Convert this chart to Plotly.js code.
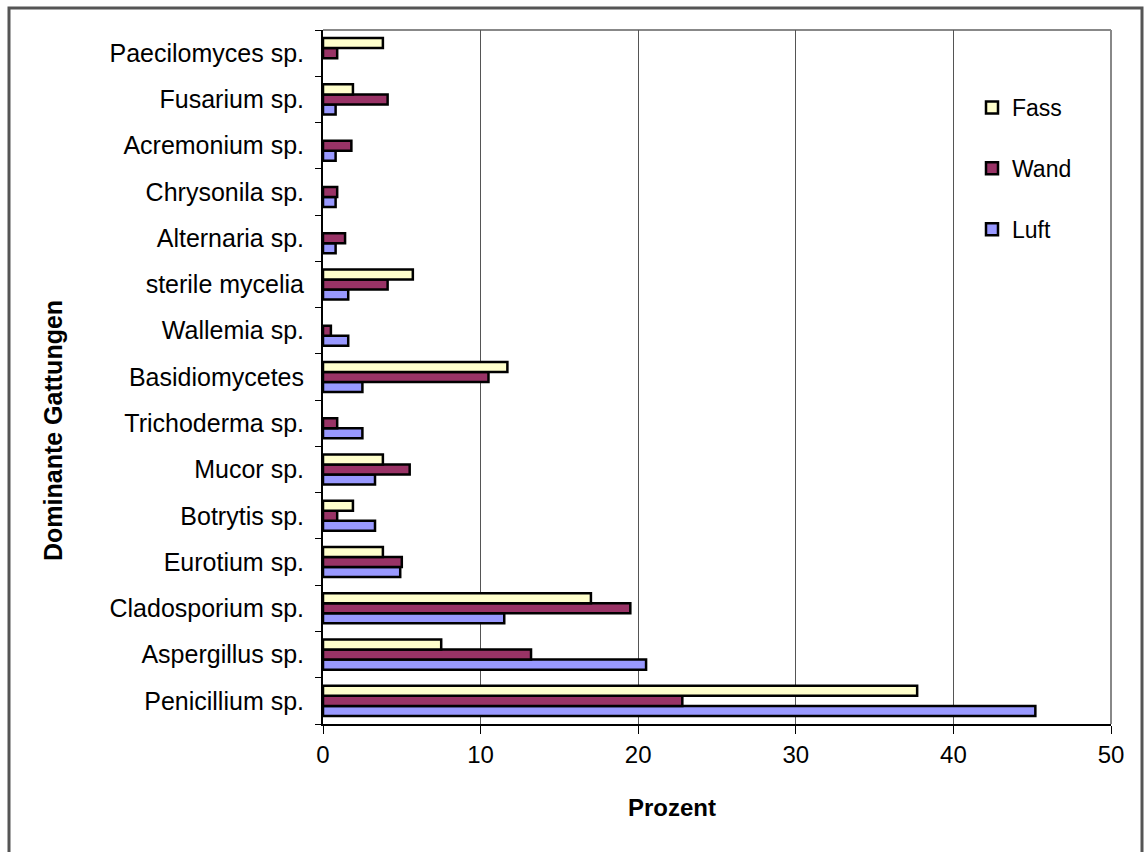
<!DOCTYPE html>
<html><head><meta charset="utf-8">
<script src="https://cdn.plot.ly/plotly-3.0.1.min.js"></script>
<style>html,body{margin:0;padding:0;background:#fff}#chart{width:1145px;height:852px}</style>
</head><body><div id="chart"></div>
<script>
// categories listed bottom-to-top
const categories = ["Penicillium sp.","Aspergillus sp.","Cladosporium sp.","Eurotium sp.","Botrytis sp.","Mucor sp.","Trichoderma sp.","Basidiomycetes","Wallemia sp.","sterile mycelia","Alternaria sp.","Chrysonila sp.","Acremonium sp.","Fusarium sp.","Paecilomyces sp."];
const luft = [45.2,20.5,11.5,4.9,3.3,3.3,2.5,2.5,1.6,1.6,0.8,0.8,0.8,0.8,0];
const wand = [22.8,13.2,19.5,5.0,0.9,5.5,0.9,10.5,0.5,4.1,1.4,0.9,1.8,4.1,0.9];
const fass = [37.7,7.5,17.0,3.8,1.9,3.8,0,11.7,0,5.7,0,0,0,1.9,3.8];
const seriesNames = ["Luft","Wand","Fass"];
const xTicks = [0,10,20,30,40,50];
const xTitle = "Prozent";
const yTitle = "Dominante Gattungen";

const W = 1145, H = 852;
const M = {l:323, r:34, t:30, b:128};
const PW = W - M.l - M.r, PH = H - M.t - M.b;
const px2x = p => (p - M.l) / PW;
const py2y = p => (H - M.b - p) / PH;

const colors = ["#9999FF","#993366","#FFFFCC"];
const values = [luft, wand, fass];
const FONT = "Liberation Sans, Arial, sans-serif";

const traces = seriesNames.map((n,i)=>({
  type:'bar', orientation:'h', name:n,
  x:values[i].map(v => v === 0 ? null : v), y:categories,
  legendgroup:n, legendrank: 3 - i,
  marker:{color:colors[i], line:{color:'#000', width:2.5}},
  hoverinfo:'x+y+name'
}));

const layout = {
  width:W, height:H, margin:M, paper_bgcolor:'#fff', plot_bgcolor:'#fff',
  barmode:'group', bargap:0.35, bargroupgap:0,
  showlegend:true,
  legend:{x:px2x(972), xanchor:'left', y:py2y(86), yanchor:'top',
    traceorder:'grouped', tracegroupgap:28,
    font:{family:FONT, size:23, color:'#000'}, bgcolor:'rgba(0,0,0,0)', borderwidth:0},
  xaxis:{range:[0,50], tickvals:xTicks, ticktext:xTicks.map(String), ticks:'outside', ticklen:8, tickwidth:1, tickcolor:'#000',
    showline:true, linecolor:'#000', linewidth:2, showgrid:true, gridcolor:'#555', gridwidth:1, zeroline:false,
    tickfont:{family:FONT, size:24, color:'#000'}, fixedrange:true},
  yaxis:{type:'category', categoryorder:'array', categoryarray:categories, tickson:'boundaries', ticks:'outside', ticklen:6, tickwidth:1, tickcolor:'#000',
    showline:true, linecolor:'#000', linewidth:2, showgrid:false, zeroline:false, ticklabelstandoff:12,
    tickfont:{family:FONT, size:25, color:'#000'}, fixedrange:true},
  shapes:[
    {type:'line', xref:'paper', yref:'paper', x0:0, x1:1, y0:1, y1:1, line:{color:'#888', width:2}, layer:'below'},
    {type:'line', xref:'paper', yref:'paper', x0:1, x1:1, y0:0, y1:1, line:{color:'#888', width:2}, layer:'below'},
    {type:'rect', xref:'paper', yref:'paper', x0:px2x(9), x1:px2x(1142), y0:py2y(900), y1:py2y(8), line:{color:'#555', width:3}, fillcolor:'rgba(0,0,0,0)'}
  ],
  annotations:[
    {text:'<b>'+xTitle+'</b>', xref:'paper', yref:'paper', x:px2x(672), y:py2y(808), xanchor:'center', yanchor:'middle', showarrow:false, font:{family:FONT, size:24, color:'#000'}},
    {text:'<b>'+yTitle+'</b>', xref:'paper', yref:'paper', x:px2x(53), y:py2y(431), xanchor:'center', yanchor:'middle', textangle:-90, showarrow:false, font:{family:FONT, size:25, color:'#000'}}
  ]
};
Plotly.newPlot('chart', traces, layout, {displayModeBar:false, staticPlot:true});
</script></body></html>
